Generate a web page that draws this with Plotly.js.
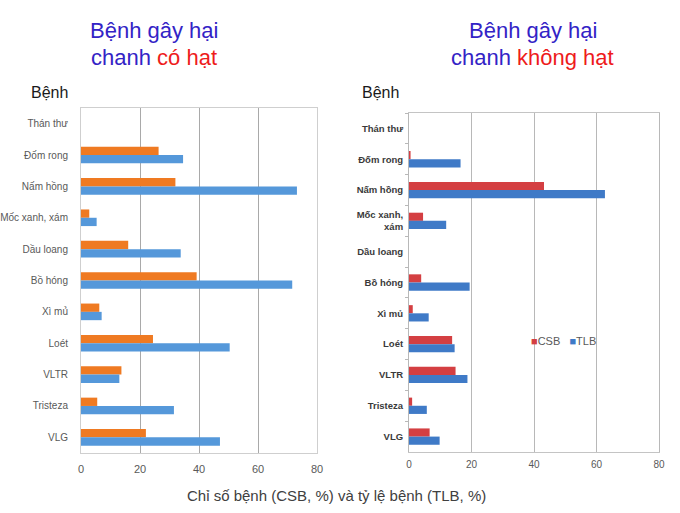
<!DOCTYPE html>
<html>
<head>
<meta charset="utf-8">
<script src="https://cdn.plot.ly/plotly-3.0.1.min.js"></script>
<style>html,body{margin:0;padding:0;background:#fff;}#chart{width:680px;height:513px;}</style>
</head>
<body>
<div id="chart"></div>
<script>
// Categories (top to bottom)
var categories = ["Thán thư","Đốm rong","Nấm hồng","Mốc xanh, xám","Dầu loang","Bồ hóng","Xì mủ","Loét","VLTR","Tristeza","VLG"];
var labelsLeft = ["Thán thư","Đốm rong","Nấm hồng","Mốc xanh, xám","Dầu loang","Bồ hóng","Xì mủ","Loét","VLTR","Tristeza","VLG"];
var labelsRight = ["Thán thư","Đốm rong","Nấm hồng","Mốc xanh,<br>xám","Dầu loang","Bồ hóng","Xì mủ","Loét","VLTR","Tristeza","VLG"];

// Chanh có hạt (left)
var csbCoHat = [0, 26.3, 32.0, 2.8, 16.0, 39.2, 6.2, 24.4, 13.7, 5.5, 22.0];
var tlbCoHat = [0, 34.6, 73.2, 5.3, 33.8, 71.6, 7.0, 50.4, 13.0, 31.5, 47.1];

// Chanh không hạt (right)
var csbKhongHat = [0, 0.5, 43.2, 4.5, 0, 3.9, 1.2, 13.8, 14.9, 1.0, 6.6];
var tlbKhongHat = [0, 16.5, 62.7, 11.9, 0, 19.4, 6.3, 14.6, 18.7, 5.7, 9.8];

var xTicks = [0, 20, 40, 60, 80];

var W = 680, H = 513;
function px(x){ return x / W; }
function py(y){ return 1 - y / H; }

var FONT = "Liberation Sans, Arial, sans-serif";

var traces = [
  {type:"bar", orientation:"h", name:"CSB", y:categories, x:csbCoHat, xaxis:"x", yaxis:"y",
   marker:{color:"#EF7A22", line:{width:0}}, showlegend:false, hoverinfo:"x+y"},
  {type:"bar", orientation:"h", name:"TLB", y:categories, x:tlbCoHat, xaxis:"x", yaxis:"y",
   marker:{color:"#5598DA", line:{width:0}}, showlegend:false, hoverinfo:"x+y"},
  {type:"bar", orientation:"h", name:"CSB", y:categories, x:csbKhongHat, xaxis:"x2", yaxis:"y2",
   marker:{color:"#D43F42", line:{width:0}}, showlegend:false, hoverinfo:"x+y"},
  {type:"bar", orientation:"h", name:"TLB", y:categories, x:tlbKhongHat, xaxis:"x2", yaxis:"y2",
   marker:{color:"#3F7AC7", line:{width:0}}, showlegend:false, hoverinfo:"x+y"}
];

var blue = "#3323C6", red = "#EE1B1B";

var layout = {
  width: W, height: H,
  margin: {l:0, r:0, t:0, b:0},
  paper_bgcolor: "#ffffff", plot_bgcolor: "#ffffff",
  font: {family: FONT, color: "#595959"},
  barmode: "group", bargap: 0.47, bargroupgap: 0,
  showlegend: false,
  xaxis: {domain:[px(81), px(317)], range:[0,80], tickvals:xTicks, ticktext:xTicks.map(String),
    showgrid:true, gridcolor:"#A9A9A9", gridwidth:1, zeroline:false,
    showline:true, linecolor:"#CFCFCF", linewidth:1, mirror:true,
    ticks:"", ticklabelstandoff:6, tickfont:{size:11, color:"#595959"}, anchor:"y", fixedrange:true},
  yaxis: {domain:[py(453), py(108)], range:[10.5,-0.5], type:"category",
    tickvals:categories, ticktext:labelsLeft,
    showgrid:false, zeroline:false, showline:true, linecolor:"#CFCFCF", linewidth:1, mirror:true,
    ticks:"", ticklabelstandoff:10, tickfont:{size:10, color:"#595959"}, anchor:"x", fixedrange:true},
  xaxis2: {domain:[px(409), px(659)], range:[0,80], tickvals:xTicks, ticktext:xTicks.map(String),
    showgrid:true, gridcolor:"#B8B8B8", gridwidth:1, zeroline:false,
    showline:true, linecolor:"#C4C4C4", linewidth:1, mirror:true,
    ticks:"", ticklabelstandoff:3, tickfont:{size:10, color:"#595959"}, anchor:"y2", fixedrange:true},
  yaxis2: {domain:[py(452), py(113)], range:[10.5,-0.5], type:"category",
    tickvals:categories, ticktext:labelsRight,
    showgrid:false, zeroline:false, showline:true, linecolor:"#B8B8B8", linewidth:1, mirror:true,
    ticks:"outside", tickson:"boundaries", ticklen:3, tickcolor:"#B8B8B8", ticklabelstandoff:3,
    tickfont:{size:9.5, color:"#3A3A3A", weight:"bold"}, anchor:"x2", fixedrange:true},
  annotations: [
    {xref:"paper", yref:"paper", x:px(154), y:py(30), xanchor:"center", yanchor:"middle", showarrow:false,
     text:"Bệnh gây hại", font:{size:22, color:blue, family:FONT}},
    {xref:"paper", yref:"paper", x:px(154), y:py(57), xanchor:"center", yanchor:"middle", showarrow:false,
     text:'chanh <span style="color:' + red + '">có hạt</span>', font:{size:22, color:blue, family:FONT}},
    {xref:"paper", yref:"paper", x:px(533), y:py(30), xanchor:"center", yanchor:"middle", showarrow:false,
     text:"Bệnh gây hại", font:{size:22, color:blue, family:FONT}},
    {xref:"paper", yref:"paper", x:px(532), y:py(57), xanchor:"center", yanchor:"middle", showarrow:false,
     text:'chanh <span style="color:' + red + '">không hạt</span>', font:{size:22, color:blue, family:FONT}},
    {xref:"paper", yref:"paper", x:px(29), y:py(92), xanchor:"left", yanchor:"middle", showarrow:false,
     text:"Bệnh", font:{size:16, color:"#1A1A1A", family:FONT}},
    {xref:"paper", yref:"paper", x:px(360), y:py(92), xanchor:"left", yanchor:"middle", showarrow:false,
     text:"Bệnh", font:{size:16, color:"#1A1A1A", family:FONT}},
    {xref:"paper", yref:"paper", x:px(336), y:py(495), xanchor:"center", yanchor:"middle", showarrow:false,
     text:"Chỉ số bệnh (CSB, %) và tỷ lệ bệnh (TLB, %)", font:{size:15, color:"#404040", family:FONT}},
    {xref:"paper", yref:"paper", x:px(529), y:py(341), xanchor:"left", yanchor:"middle", showarrow:false,
     text:'<span style="color:#D43F42">■</span>CSB   <span style="color:#3F7AC7">■</span>TLB',
     font:{size:11, color:"#595959", family:FONT}}
  ]
};

Plotly.newPlot("chart", traces, layout, {displayModeBar:false, staticPlot:true});
</script>
</body>
</html>
